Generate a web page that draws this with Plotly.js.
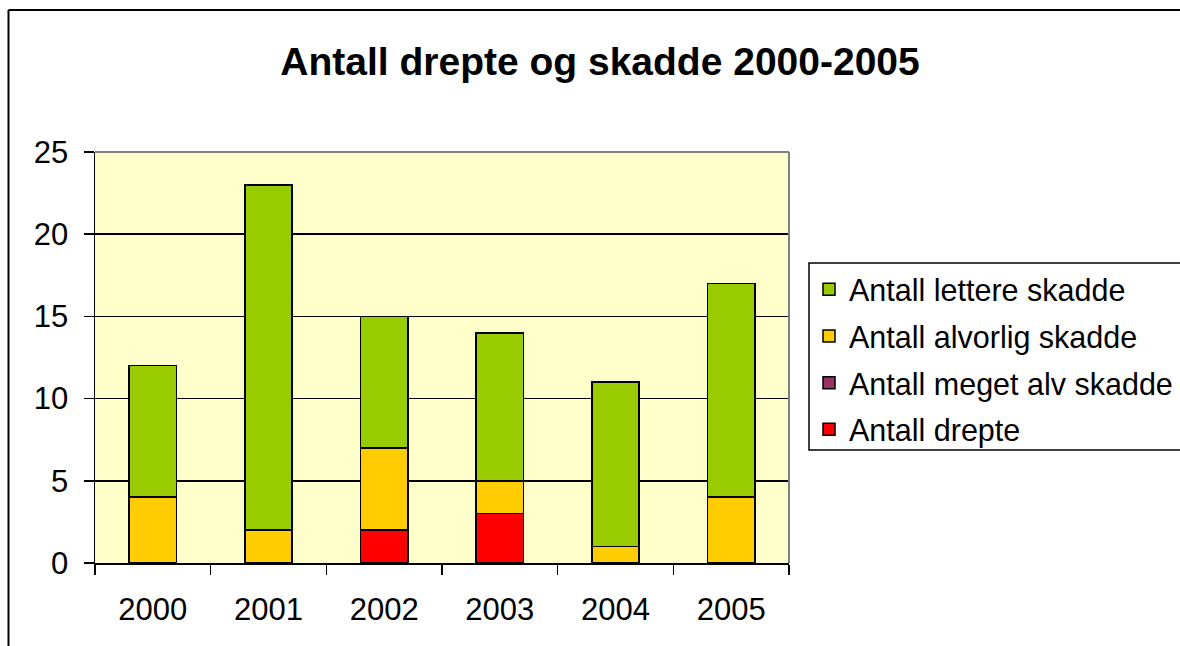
<!DOCTYPE html>
<html>
<head>
<meta charset="utf-8">
<script src="https://cdn.plot.ly/plotly-3.0.1.min.js"></script>
<style>html,body{margin:0;padding:0;background:#fff;}#chart{width:1180px;height:646px;}</style>
</head>
<body>
<div id="chart"></div>
<script>
var years = ['2000', '2001', '2002', '2003', '2004', '2005'];
var drepte = [0, 0, 2, 3, 0, 0];
var megetAlv = [0, 0, 0, 0, 0, 0];
var alvorlig = [4, 2, 5, 2, 1, 4];
var lettere = [8, 21, 8, 9, 10, 13];
var yTicks = [0, 5, 10, 15, 20, 25];

var FONT = '"Liberation Sans", Arial, sans-serif';
var L = 95, R = 789, T = 152, B = 563, W = 1180, H = 646;
function px(x) { return (x - L) / (R - L); }
function py(y) { return (B - y) / (B - T); }

function tr(name, vals, color, g, rank) {
  return {
    type: 'bar', name: name, x: years, y: vals, legendgroup: g, legendrank: rank,
    marker: {color: color, line: {color: '#000', width: 1.5}},
    hoverinfo: 'x+y+name'
  };
}
var data = [
  tr('Antall drepte', drepte, '#FF0000', 'd', 4),
  tr('Antall meget alv skadde', megetAlv, '#993366', 'm', 3),
  tr('Antall alvorlig skadde', alvorlig, '#FFCC00', 'a', 2),
  tr('Antall lettere skadde', lettere, '#99CC00', 'l', 1)
];

var layout = {
  width: W, height: H,
  margin: {l: L, r: W - R, t: T, b: H - B, pad: 0, autoexpand: false},
  paper_bgcolor: '#FFFFFF',
  plot_bgcolor: '#FFFFCC',
  barmode: 'stack',
  bargap: 0.59,
  font: {family: FONT, color: '#000', size: 31},
  title: {
    text: '<b>Antall drepte og skadde 2000-2005</b>',
    font: {family: FONT, size: 39, color: '#000'},
    x: 600 / W, xanchor: 'center', xref: 'container',
    y: 1 - 61 / H, yanchor: 'middle', yref: 'container'
  },
  xaxis: {
    type: 'category', tickson: 'boundaries',
    ticks: 'outside', ticklen: 10, tickwidth: 1.5, tickcolor: '#000',
    showline: true, linecolor: '#000', linewidth: 1.5,
    showgrid: false, zeroline: false,
    tickfont: {family: FONT, size: 31, color: '#000'},
    ticklabelstandoff: 18,
    fixedrange: true, automargin: false
  },
  yaxis: {
    range: [0, 25], tickvals: yTicks, ticktext: yTicks.map(String),
    ticks: 'outside', ticklen: 10, tickwidth: 1.5, tickcolor: '#000',
    showline: true, linecolor: '#000', linewidth: 1.5,
    showgrid: true, gridcolor: '#000', gridwidth: 1.5,
    zeroline: false,
    tickfont: {family: FONT, size: 31, color: '#000'},
    ticklabelstandoff: 9,
    fixedrange: true, automargin: false
  },
  showlegend: true,
  legend: {
    x: px(809), y: py(263), xanchor: 'left', yanchor: 'top',
    traceorder: 'grouped', tracegroupgap: 4,
    bgcolor: 'rgba(0,0,0,0)', borderwidth: 0,
    font: {family: FONT, size: 30.5, color: '#000'},
    itemclick: false, itemdoubleclick: false
  },
  shapes: [
    {type: 'line', xref: 'paper', yref: 'paper', x0: 0, x1: 1, y0: 1, y1: 1, line: {color: '#808080', width: 2}},
    {type: 'line', xref: 'paper', yref: 'paper', x0: 1, x1: 1, y0: 0, y1: 1, line: {color: '#808080', width: 2}},
    {type: 'rect', xref: 'paper', yref: 'paper', x0: px(809), x1: px(1190), y0: py(450), y1: py(263), line: {color: '#000', width: 1.5}, fillcolor: 'rgba(0,0,0,0)'},
    {type: 'line', xref: 'paper', yref: 'paper', x0: px(8.5), x1: px(8.5), y0: py(10), y1: py(660), line: {color: '#000', width: 2}},
    {type: 'line', xref: 'paper', yref: 'paper', x0: px(8.5), x1: px(1190), y0: py(10), y1: py(10), line: {color: '#000', width: 2}}
  ]
};

Plotly.newPlot('chart', data, layout, {displayModeBar: false, staticPlot: true});
</script>
</body>
</html>
